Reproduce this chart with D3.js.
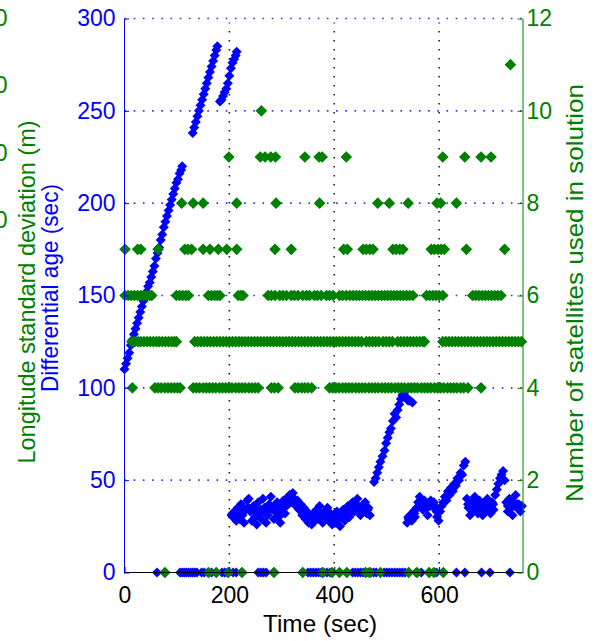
<!DOCTYPE html>
<meta charset="utf-8">
<style>
	body { margin: 0; background: #ffffff; }
	.vis-age svg { display: block; }
	.vis-age text { font-family: "Liberation Sans", Arial, sans-serif; }
	.grid-y line { stroke: #3030ff; stroke-width: 1.6; stroke-dasharray: 1.6 7.6; }
	.grid-x line { stroke: #202020; stroke-width: 1.6; stroke-dasharray: 1.6 7.4; }
	.dot-age { fill: #0000ff; }
	.dot-sat { fill: #008000; }
</style>

<div class="vis-age"></div>

<script src="https://d3js.org/d3.v7.min.js"></script>
<script>

	// ---- //
	// Data //
	// ---- //

	// differential age (sec) as [time, value]
	const ageRise1 = [[0,110],[3,113],[6,116],[9,119],[12,123],[15,126],[18,129],[21,132],[24,135],[27,138],
		[30,141],[33,144],[36,147],[39,149],[42,152],[45,155],[48,157],[51,160],[54,163],[57,166],[60,170],
		[63,173],[66,176],[69,180],[72,183],[75,187],[78,190],[81,193],[84,196],[87,199],[90,202],[93,205],
		[96,208],[99,211],[102,213],[105,216],[108,218],[110,220]];
	const ageRise2 = [[130,238],[133,241],[136,244],[139,247],[142,250],[145,253],[148,256],[151,259],[154,262],
		[157,265],[160,268],[163,271],[166,274],[169,277],[172,280],[175,283],[177,285]];
	const ageRise3 = [[182,255],[185,256],[188,258],[191,260],[194,262],[197,265],[200,269],[203,273],[206,276],
		[209,278],[212,280],[214,282]];
	const ageLow1 = [[204,31],[207,30],[210,33],[213,28],[216,35],[219,29],[222,37],[225,31],[228,27],[231,34],
		[234,39],[237,40],[240,33],[243,28],[246,36],[249,30],[252,26],[255,38],[258,32],[261,29],[264,40],
		[267,35],[270,27],[273,31],[276,37],[279,41],[282,34],[285,29],[288,33],[291,38],[294,30],[297,27],
		[300,35],[303,39],[306,32],[309,36],[312,41],[315,42],[318,38],[321,43],[324,40],[327,36],[330,39],
		[333,34],[336,37],[339,31],[342,35],[345,29],[348,33],[351,27],[354,30],[357,26],[360,32],[363,28],
		[366,34],[369,29],[372,36],[375,31],[378,27],[381,33],[384,30],[387,35],[390,28],[393,32],[396,26],
		[399,30],[402,27],[405,33],[408,29],[411,25],[414,31],[417,34],[420,28],[423,32],[426,36],[429,30],
		[432,34],[435,38],[438,33],[441,37],[444,40],[447,35],[450,31],[453,36],[456,33],[459,38],[462,32],
		[465,35],[468,31]];
	const ageLow1Core = [[206,32],[212,32],[218,33],[224,33],[230,34],[236,35],[242,34],[248,33],[254,33],
		[260,34],[266,34],[272,33],[278,35],[284,35],[290,34],[296,33],[302,36],[308,37],[314,38],[320,39],
		[326,37],[332,35],[338,34],[344,32],[350,30],[356,29],[362,30],[368,31],[374,32],[380,31],[386,31],
		[392,30],[398,29],[404,30],[410,29],[416,31],[422,31],[428,32],[434,34],[440,35],[446,36],[452,34],
		[458,35],[464,34]];
	const ageRamp = [[476,49],[479,51],[482,54],[485,57],[488,60],[492,63],[496,66],[499,70],[502,73],[505,76],
		[508,78],[512,82],[515,86],[518,84],[521,88],[524,91],[527,94],[530,96],[533,97],[537,95],[541,93],
		[545,93],[549,92]];
	const ageLow2 = [[539,27],[542,29],[545,31],[548,28],[551,33],[554,30],[557,35],[560,38],[563,41],[566,37],
		[569,34],[572,39],[575,36],[578,31],[581,37],[584,39],[587,36],[590,38],[593,35],[596,30],[599,28],
		[602,33],[605,36],[608,38],[611,41],[614,39],[617,44],[620,42],[623,46],[626,44],[629,48],[632,47],
		[635,51],[638,50],[641,54],[644,53],[647,58],[650,60],[653,40],[656,35],[659,31],[662,38],[665,34],
		[668,41],[671,36],[674,32],[677,39],[680,35],[683,31],[686,37],[689,33],[692,40],[695,36],[698,32],
		[701,38],[704,34],[707,42],[710,45],[713,48],[716,51],[719,53],[722,55],[725,50],[728,38],[731,33],
		[734,40],[737,36],[740,31],[743,38],[746,42],[749,35],[752,37],[755,33],[758,36]];
	const ageLow2Core = [[541,30],[547,31],[553,32],[559,35],[565,37],[571,36],[577,35],[583,36],[589,37],
		[595,33],[655,37],[661,36],[667,37],[673,36],[679,36],[685,35],[691,36],[697,36],[703,37],[731,36],
		[737,35],[743,36],[749,37],[755,36]];
	// times where the differential age is 0
	const ageZeroTimes = [62,106,110,114,118,122,126,130,134,138,147,152,166,186,191,196,207,213,255,260,265,270,
		350,355,360,365,370,375,380,386,392,435,440,445,450,455,465,470,475,480,495,500,505,510,515,520,525,
		530,535,556,566,595,633,649,681,697,735];

	// number of satellites: times at which each count occurs
	const sats0 = [77,160,175,198,224,285,340,378,396,410,424,460,468,488,542,558,581,590,608];
	const sats4 = [15,58,64,70,77,83,89,95,101,106,131,137,143,150,156,162,168,174,181,187,193,199,205,212,
		218,224,230,237,243,249,255,280,286,293,325,331,338,344,350,357,391,397,403,409,416,422,428,434,441,
		447,453,459,466,472,478,484,491,497,503,509,516,522,528,534,541,547,553,559,566,572,578,584,591,597,
		603,609,616,622,628,634,641,647,655,680];
	const sats5 = [14,20,26,31,37,43,49,55,61,66,72,78,84,90,95,99,134,140,146,152,158,164,170,176,182,188,194,
		200,206,212,218,224,230,236,242,248,254,260,266,272,278,284,290,296,302,308,314,320,326,332,338,344,
		350,356,362,368,374,380,386,392,398,404,410,416,422,428,434,440,446,452,461,467,473,479,485,493,499,
		505,511,521,527,533,539,545,551,557,563,569,572,607,613,619,625,631,637,643,649,655,661,667,673,679,
		685,691,697,703,709,715,721,727,733,739,745,751,757];
	const sats6 = [1,7,13,19,25,31,37,43,48,52,99,105,111,117,122,160,166,172,177,182,217,222,226,274,280,287,
		296,302,309,318,324,331,340,347,353,362,368,375,385,391,398,410,416,423,430,436,442,448,454,460,466,
		472,478,484,490,496,502,508,514,520,526,532,538,544,550,576,582,588,594,600,607,664,670,676,682,688,
		694,700,706,712,718];
	const sats7 = [1,25,31,64,115,121,128,150,163,179,195,214,287,318,418,425,455,461,468,474,512,518,525,531,
		585,591,598,604,610,652,725];
	const sats8 = [109,131,150,214,289,372,483,505,541,596,603,633];
	const sats9 = [199,259,268,279,288,344,371,377,423,607,649,680,699];
	const sats10 = [261];
	const sats11 = [736];

	// ticks and labels
	const timeTicks = [0, 200, 400, 600];
	const ageTicks = [0, 50, 100, 150, 200, 250, 300];
	const satTicks = [0, 2, 4, 6, 8, 10, 12];
	const stdTicks = ["40", "30", "20", "10"];
	const stdTickValues = [40, 30, 20, 10];

	const timeLabel = "Time (sec)";
	const ageLabel = "Differential age (sec)";
	const stdLabel = "Longitude standard deviation (m)";
	const satLabel = "Number of satellites used in solution";

	// ----- //
	// Setup //
	// ----- //

	let W = 596, H = 641;
	let plotLeft = 124, plotRight = 523, plotTop = 18.5, plotBottom = 572.5;

	let x = d3.scaleLinear().domain([0, 760]).range([plotLeft + 0.5, plotRight]);
	let y = d3.scaleLinear().domain([0, 300]).range([plotBottom, plotTop]);
	let ySat = d3.scaleLinear().domain([0, 12]).range([plotBottom, plotTop]);
	let yStd = d3.scaleLinear().domain([10, 40]).range([220, 18]);

	let svg = d3.select(".vis-age")
		.append("svg")
			.attr("width", W)
			.attr("height", H);

	function diamond(r) {
		return "M0," + (-r) + "L" + r + ",0L0," + r + "L" + (-r) + ",0Z";
	}

	// GRID
	svg.append("g")
		.attr("class", "grid-y")
		.selectAll("line")
		.data(ageTicks.filter(d => d > 0))
		.enter().append("line")
			.attr("x1", plotLeft + 0.5)
			.attr("x2", plotRight)
			.attr("y1", d => y(d))
			.attr("y2", d => y(d));

	svg.append("g")
		.attr("class", "grid-x")
		.selectAll("line")
		.data(timeTicks.filter(d => d > 0))
		.enter().append("line")
			.attr("x1", d => x(d))
			.attr("x2", d => x(d))
			.attr("y1", plotBottom)
			.attr("y2", plotTop + 4);

	// DIFFERENTIAL AGE
	let ageData = [].concat(ageRise1, ageRise2, ageRise3, ageLow1, ageLow1Core, ageRamp, ageLow2, ageLow2Core,
		ageZeroTimes.map(t => [t, 0]));

	svg.append("g")
		.selectAll("path")
		.data(ageData)
		.enter().append("path")
			.attr("class", "dot-age")
			.attr("d", diamond(5))
			.attr("transform", d => "translate(" + x(d[0]) + "," + y(d[1]) + ")");

	// SATELLITES
	let satRows = [[0, sats0], [4, sats4], [5, sats5], [6, sats6], [7, sats7],
		[8, sats8], [9, sats9], [10, sats10], [11, sats11]];
	let satData = [];
	satRows.forEach(r => r[1].forEach(t => satData.push([t, r[0]])));

	svg.append("g")
		.selectAll("path")
		.data(satData)
		.enter().append("path")
			.attr("class", "dot-sat")
			.attr("d", diamond(5.8))
			.attr("transform", d => "translate(" + x(d[0]) + "," + ySat(d[1]) + ")");

	// AXES
	function styleAxis(g, color) {
		g.attr("color", color)
			.attr("font-size", 23)
			.attr("font-family", "Liberation Sans, Arial, sans-serif");
	}

	svg.append("g")
		.attr("transform", "translate(0," + (plotBottom - 0.5) + ")")
		.call(d3.axisBottom(x).tickValues(timeTicks).tickSizeInner(-5).tickSizeOuter(0).tickPadding(14.5))
		.call(g => styleAxis(g, "#000000"));

	svg.append("g")
		.attr("transform", "translate(" + plotLeft + ",0)")
		.call(d3.axisLeft(y).tickValues(ageTicks).tickSizeInner(-5).tickSizeOuter(0).tickPadding(8.5))
		.call(g => styleAxis(g, "#0000ff"));

	svg.append("g")
		.attr("transform", "translate(" + (plotRight - 0.5) + ",0)")
		.call(d3.axisRight(ySat).tickValues(satTicks).tickSizeInner(-5).tickSizeOuter(0).tickPadding(4))
		.call(g => styleAxis(g, "#008000"));

	// ghost axis: only the last digits show at the left edge, as in the original
	svg.append("g")
		.selectAll("text")
		.data(stdTickValues)
		.enter().append("text")
			.attr("x", 7.5)
			.attr("y", d => yStd(d))
			.attr("dy", "0.35em")
			.attr("text-anchor", "end")
			.attr("font-size", 23)
			.attr("fill", "#008000")
			.text((d, i) => stdTicks[i]);

	// LABELS
	svg.append("text")
		.attr("x", 320)
		.attr("y", 632)
		.attr("text-anchor", "middle")
		.attr("font-size", 24)
		.attr("textLength", 114)
		.attr("lengthAdjust", "spacingAndGlyphs")
		.attr("fill", "#000000")
		.text(timeLabel);

	svg.append("text")
		.attr("transform", "translate(35,292) rotate(-90)")
		.attr("text-anchor", "middle")
		.attr("font-size", 24)
		.attr("textLength", 343)
		.attr("lengthAdjust", "spacingAndGlyphs")
		.attr("fill", "#008000")
		.text(stdLabel);

	svg.append("text")
		.attr("transform", "translate(58,288) rotate(-90)")
		.attr("text-anchor", "middle")
		.attr("font-size", 24)
		.attr("textLength", 208)
		.attr("lengthAdjust", "spacingAndGlyphs")
		.attr("fill", "#0000ff")
		.text(ageLabel);

	svg.append("text")
		.attr("transform", "translate(583,293) rotate(-90)")
		.attr("text-anchor", "middle")
		.attr("font-size", 24)
		.attr("textLength", 418)
		.attr("lengthAdjust", "spacingAndGlyphs")
		.attr("fill", "#008000")
		.text(satLabel);

</script>
